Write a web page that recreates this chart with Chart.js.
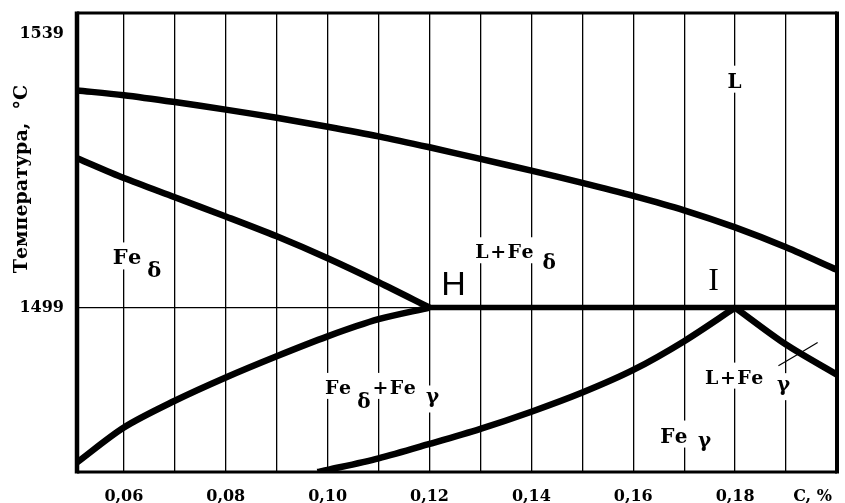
<!DOCTYPE html>
<html>
<head>
<meta charset="utf-8">
<title>Fe-C peritectic</title>
<script src="https://cdn.jsdelivr.net/npm/chart.js@4.4.1/dist/chart.umd.min.js"></script>
<style>
  body { margin: 0; background: #fff; }
</style>
</head>
<body>
<canvas id="diagram" width="845" height="503"></canvas>
<script>
"use strict";

// carbon content, %  (vertical grid + labelled ticks)
const xGrid = [0.06, 0.07, 0.08, 0.09, 0.10, 0.11, 0.12, 0.13, 0.14, 0.15, 0.16, 0.17, 0.18, 0.19];
const xLabeled = [0.06, 0.08, 0.10, 0.12, 0.14, 0.16, 0.18];
const yTicks = [1499, 1539];

// liquidus
const liqC = [0.0508, 0.06, 0.07, 0.08, 0.09, 0.10, 0.11, 0.12, 0.13, 0.14, 0.15, 0.16, 0.17, 0.18, 0.19, 0.20];
const liqT = [1530.7, 1530.0, 1529.0, 1527.9, 1526.7, 1525.4, 1524.0, 1522.4, 1520.7, 1519.0, 1517.2, 1515.3, 1513.2, 1510.7, 1507.8, 1504.5];

// solidus of Fe delta, down to H
const solC = [0.0508, 0.06, 0.07, 0.08, 0.09, 0.10, 0.11, 0.12];
const solT = [1520.8, 1517.9, 1515.1, 1512.3, 1509.4, 1506.2, 1502.7, 1499];

// Fe delta / Fe delta + Fe gamma boundary
const deltaC = [0.0508, 0.06, 0.07, 0.08, 0.09, 0.10, 0.11, 0.12];
const deltaT = [1476.4, 1481.5, 1485.4, 1488.8, 1491.9, 1494.8, 1497.3, 1499];

// Fe gamma boundary up to I
const gammaC = [0.098, 0.10, 0.11, 0.12, 0.13, 0.14, 0.15, 0.16, 0.17, 0.18];
const gammaT = [1475.0, 1475.3, 1477.0, 1479.1, 1481.3, 1483.8, 1486.6, 1489.9, 1494.1, 1499];

// L + Fe gamma boundary
const lgC = [0.18, 0.19, 0.20];
const lgT = [1499, 1493.6, 1489.2];

// peritectic horizontal
const periC = [0.12, 0.20];
const periT = [1499, 1499];

// leader line of the "L+Fe γ" label
const leadC = [0.1885, 0.1962];
const leadT = [1490.5, 1493.9];

// text placed in the fields (left edge / baseline, in %C and °C)
const phaseLabels = [
  { text: "Fe", x: 0.0578, y: 1505.3, font: "bold 21px 'DejaVu Serif'" },
  { text: "δ", x: 0.0646, y: 1503.4, font: "bold 21px 'DejaVu Serif'" },
  { text: "L+Fe", x: 0.1290, y: 1506.2, font: "bold 19px 'DejaVu Serif'" },
  { text: "δ", x: 0.1422, y: 1504.7, font: "bold 20px 'DejaVu Serif'" },
  { text: "H", x: 0.1223, y: 1500.9, font: "34px 'Liberation Sans'" },
  { text: "I", x: 0.1747, y: 1501.6, font: "32px 'Liberation Serif'" },
  { text: "L", x: 0.1785, y: 1531.1, font: "bold 20px 'DejaVu Serif'" },
  { text: "Fe", x: 0.0995, y: 1486.4, font: "bold 19px 'DejaVu Serif'" },
  { text: "δ", x: 0.1058, y: 1484.4, font: "bold 20px 'DejaVu Serif'" },
  { text: "+Fe", x: 0.1088, y: 1486.4, font: "bold 19px 'DejaVu Serif'" },
  { text: "γ", x: 0.1193, y: 1485.0, font: "bold 20px 'DejaVu Serif'" },
  { text: "L+Fe", x: 0.1741, y: 1487.9, font: "bold 19px 'DejaVu Serif'" },
  { text: "γ", x: 0.1882, y: 1486.8, font: "bold 20px 'DejaVu Serif'" },
  { text: "Fe", x: 0.1653, y: 1479.3, font: "bold 20px 'DejaVu Serif'" },
  { text: "γ", x: 0.1727, y: 1478.6, font: "bold 20px 'DejaVu Serif'" }
];

function pts(xs, ys) {
  return xs.map(function (x, i) { return { x: x, y: ys[i] }; });
}

function curve(xs, ys, w) {
  return {
    data: pts(xs, ys),
    showLine: true,
    borderColor: "#000",
    borderWidth: w,
    pointRadius: 0,
    borderJoinStyle: "round",
    tension: 0.3
  };
}

const tickFont = { family: "'DejaVu Serif'", size: 16, weight: "bold" };

const phasePlugin = {
  id: "phaseLabels",
  beforeDatasetsDraw: function (chart) {
    // white patches under the labels cut the grid lines like in the print
    const ctx = chart.ctx;
    const xs = chart.scales.x, ys = chart.scales.y;
    ctx.save();
    ctx.fillStyle = "#fff";
    ctx.letterSpacing = "1.5px";
    phaseLabels.forEach(function (l) {
      ctx.font = l.font;
      const m = ctx.measureText(l.text);
      const px = xs.getPixelForValue(l.x), py = ys.getPixelForValue(l.y);
      ctx.fillRect(px - 3, py - m.actualBoundingBoxAscent - 7,
        m.width + 6, m.actualBoundingBoxAscent + m.actualBoundingBoxDescent + 12);
    });
    ctx.restore();
  },
  afterDatasetsDraw: function (chart) {
    const ctx = chart.ctx;
    const a = chart.chartArea;
    const xs = chart.scales.x, ys = chart.scales.y;
    ctx.save();
    ctx.fillStyle = "#000";
    ctx.textAlign = "left";
    ctx.textBaseline = "alphabetic";
    ctx.letterSpacing = "1.5px";
    phaseLabels.forEach(function (l) {
      ctx.font = l.font;
      ctx.fillText(l.text, xs.getPixelForValue(l.x), ys.getPixelForValue(l.y));
    });
    ctx.letterSpacing = "0px";

    // frame
    ctx.strokeStyle = "#000";
    ctx.lineWidth = 3;
    ctx.beginPath();
    ctx.moveTo(a.left, a.top);
    ctx.lineTo(a.right, a.top);
    ctx.stroke();
    ctx.beginPath();
    ctx.moveTo(a.left, a.bottom);
    ctx.lineTo(a.right, a.bottom);
    ctx.stroke();
    ctx.lineWidth = 4.5;
    ctx.beginPath();
    ctx.moveTo(a.left, a.top - 1.5);
    ctx.lineTo(a.left, a.bottom + 1.5);
    ctx.stroke();
    ctx.lineWidth = 4;
    ctx.beginPath();
    ctx.moveTo(a.right, a.top - 1.5);
    ctx.lineTo(a.right, a.bottom + 1.5);
    ctx.stroke();

    // unit at the end of the x axis
    ctx.font = "bold 16px 'DejaVu Serif'";
    ctx.textAlign = "center";
    ctx.fillText("C, %", xs.getPixelForValue(0.1952), 501);

    // y axis title
    ctx.translate(22, 179);
    ctx.rotate(-Math.PI / 2);
    ctx.font = "bold 19px 'DejaVu Serif'";
    ctx.textBaseline = "middle";
    ctx.fillText("Температура,  °С", 0, 0);
    ctx.restore();
  }
};

new Chart(document.getElementById("diagram"), {
  type: "scatter",
  data: {
    datasets: [
      curve(liqC, liqT, 6.5),
      curve(solC, solT, 6.5),
      curve(deltaC, deltaT, 6.5),
      curve(gammaC, gammaT, 6.5),
      curve(lgC, lgT, 6.5),
      curve(periC, periT, 5.5),
      curve(leadC, leadT, 1.2)
    ]
  },
  options: {
    responsive: false,
    animation: false,
    devicePixelRatio: 1,
    layout: { padding: { top: 13, right: 8, left: 0, bottom: 0 } },
    plugins: {
      legend: { display: false },
      tooltip: { enabled: false }
    },
    scales: {
      x: {
        type: "linear",
        min: 0.0508,
        max: 0.2,
        afterBuildTicks: function (scale) {
          scale.ticks = xGrid.map(function (v) { return { value: v }; });
        },
        afterFit: function (scale) {
          scale.height = 31;
          scale.paddingLeft = 0;
          scale.paddingRight = 0;
        },
        border: { display: false },
        grid: { color: "#000", lineWidth: 1.3, drawTicks: false },
        ticks: {
          color: "#000",
          font: tickFont,
          padding: 15,
          maxRotation: 0,
          autoSkip: false,
          callback: function (v) {
            const hit = xLabeled.some(function (t) { return Math.abs(t - v) < 1e-6; });
            return hit ? v.toFixed(2).replace(".", ",") : "";
          }
        }
      },
      y: {
        type: "linear",
        min: 1475,
        max: 1542,
        afterBuildTicks: function (scale) {
          scale.ticks = yTicks.map(function (v) { return { value: v }; });
        },
        afterFit: function (scale) {
          scale.width = 77;
          scale.paddingTop = 0;
          scale.paddingBottom = 0;
        },
        border: { display: false },
        grid: {
          drawTicks: false,
          lineWidth: 1.3,
          color: function (c) {
            return c.tick && c.tick.value === 1499 ? "#000" : "rgba(0,0,0,0)";
          }
        },
        ticks: {
          color: "#000",
          font: tickFont,
          padding: 13,
          callback: function (v) { return String(v); }
        }
      }
    }
  },
  plugins: [phasePlugin]
});
</script>
</body>
</html>
